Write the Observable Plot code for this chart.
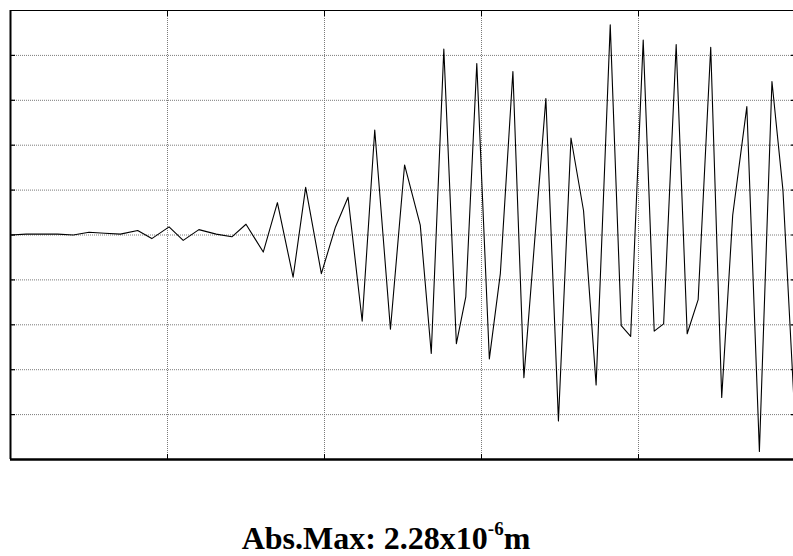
<!DOCTYPE html>
<html>
<head>
<meta charset="utf-8">
<script src="https://cdn.jsdelivr.net/npm/d3@7"></script>
<script src="https://cdn.jsdelivr.net/npm/@observablehq/plot@0.6"></script>
<style>
  html, body { margin: 0; padding: 0; background: #fff; overflow: hidden; }
  #wrap { position: relative; width: 793px; height: 556px; }
  #caption {
    position: absolute; left: 0; top: 522px; width: 772px;
    text-align: center; font-family: "Liberation Serif", "Times New Roman", serif;
    font-weight: bold; font-size: 32px; line-height: 1; color: #000; white-space: nowrap;
  }
  #caption sup { font-size: 19px; position: relative; top: -2px; vertical-align: super; line-height: 0; }
</style>
</head>
<body>
<div id="wrap">
  <div id="chart"></div>
  <div id="caption">Abs.Max: 2.28x10<sup>-6</sup>m</div>
</div>
<script>
// time (grid units) and displacement (x1e-6 m)
const times = [0, 1.0, 2.0, 3.0, 4.0, 5.0, 6.0, 7.0, 8.1, 9.0, 10.1, 11.0, 12.0, 13.1, 14.1, 15.0, 16.1, 17.0, 18.0, 18.8,
  19.8, 20.7, 21.5, 22.4, 23.2, 24.2, 25.1, 26.1, 26.8, 27.6, 28.4, 29.0, 29.7, 30.5, 31.2, 32.0, 32.7, 34.1, 34.9, 35.7,
  36.5, 37.3, 38.2, 38.9, 39.5, 40.3, 41.0, 41.6, 42.4, 43.1, 43.8, 44.6, 45.3, 46.0, 46.9, 47.7, 48.5, 49.2, 49.9];
const displacement = [0.00, 0.01, 0.01, 0.01, 0.00, 0.03, 0.02, 0.01, 0.05, -0.04, 0.09, -0.06, 0.06, 0.01, -0.02, 0.12, -0.19, 0.36, -0.47, 0.53,
  -0.43, 0.09, 0.42, -0.96, 1.17, -1.05, 0.78, 0.11, -1.32, 2.07, -1.21, -0.69, 1.91, -1.38, -0.43, 1.82, -1.59, 1.52, -2.07, 1.08,
  0.27, -1.67, 2.34, -1.01, -1.13, 2.17, -1.07, -0.99, 2.12, -1.10, -0.72, 2.09, -1.81, 0.22, 1.43, -2.41, 1.71, 0.50, -1.84];
const xTicks = [10, 20, 30, 40];
const yTicks = [-2, -1.5, -1, -0.5, 0, 0.5, 1, 1.5, 2];

const data = times.map((t, i) => ({t, v: displacement[i]}));
const gridStyle = {stroke: "#7a7a7a", strokeOpacity: 1, strokeDasharray: "1,1", strokeWidth: 1};
const noLabel = () => "";

const chart = Plot.plot({
  width: 793,
  height: 470,
  marginLeft: 10,
  marginRight: -2,
  marginTop: 10,
  marginBottom: 11,
  x: {domain: [0, 50], label: null},
  y: {domain: [-2.5, 2.5], label: null},
  marks: [
    Plot.gridX(xTicks, gridStyle),
    Plot.gridY(yTicks, gridStyle),
    Plot.axisY(yTicks, {anchor: "left", tickSize: -5, tickFormat: noLabel, label: null, strokeWidth: 1.2}),
    Plot.axisY(yTicks, {anchor: "right", tickSize: -5, tickFormat: noLabel, label: null, strokeWidth: 1.2}),
    Plot.axisX(xTicks, {anchor: "top", tickSize: -5, tickFormat: noLabel, label: null}),
    Plot.axisX(xTicks, {anchor: "bottom", tickSize: -5, tickFormat: noLabel, label: null}),
    Plot.ruleX([0], {stroke: "#000", strokeWidth: 2}),
    Plot.ruleY([2.5], {stroke: "#000", strokeWidth: 1}),
    Plot.ruleY([-2.5], {stroke: "#000", strokeWidth: 2.5}),
    Plot.line(data, {x: "t", y: "v", stroke: "#000", strokeWidth: 1.1})
  ]
});
document.getElementById("chart").appendChild(chart);
</script>
</body>
</html>
